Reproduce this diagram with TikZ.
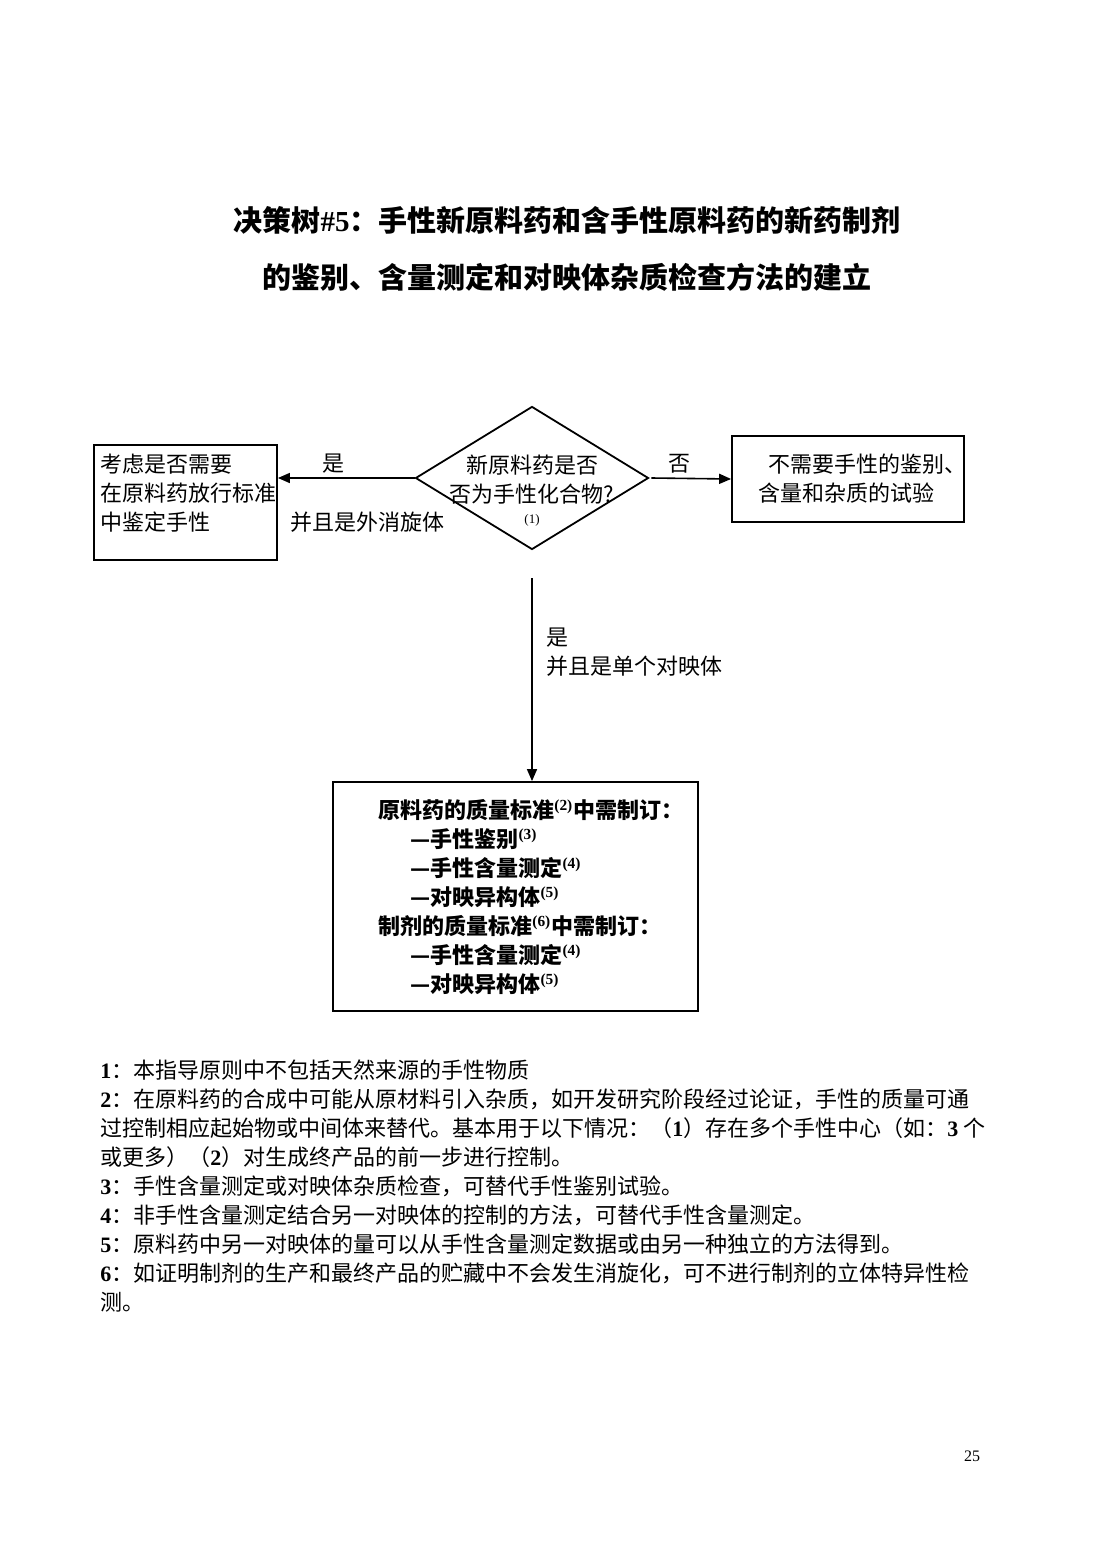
\documentclass[tikz,border=0pt]{standalone}
\usepackage{fontspec}
\setmainfont{Noto Sans CJK SC}
\newfontfamily\lat{Liberation Serif}
\usetikzlibrary{shapes.geometric,arrows.meta}

\begin{document}
\begin{tikzpicture}[x=0.5pt,y=0.5pt,yscale=-1,xscale=1,
    box/.style={draw,line width=0.9pt,inner sep=0pt},
    txt/.style={inner sep=0pt,font=\fontsize{11}{14.5}\selectfont},
    arr/.style={-{Triangle[length=6pt,width=5pt]},line width=0.8pt}]
    %set diagram to the page size
    \useasboundingbox (0,0) rectangle (1100,1556);

    % Text Node
    \node (title1) at (567,220) [inner sep=0pt,font=\fontsize{14.5}{14.5}\selectfont\bfseries] {决策树{\lat\#5}：手性新原料药和含手性原料药的新药制剂};
    % Text Node
    \node (title2) at (567,277) [inner sep=0pt,font=\fontsize{14.5}{14.5}\selectfont\bfseries] {的鉴别、含量测定和对映体杂质检查方法的建立};

    %Shape: Diamond
    \node (chiral) at (532,478) [draw,diamond,line width=0.9pt,inner sep=0pt,minimum width=116.5pt,minimum height=71.5pt,aspect=1.63] {};
    % Text Node
    \node (chiraltxt) at (532,491) [txt,align=center] {新原料药是否\\否为手性化合物?\\[-4pt]{\lat\fontsize{6.5}{7}\selectfont(1)}};

    %Shape: Rectangle
    \node (consider) at (185.5,502.5) [box,minimum width=91.5pt,minimum height=57.5pt] {};
    % Text Node
    \node (considertxt) at (100,493) [txt,anchor=west,align=left] {考虑是否需要\\在原料药放行标准\\中鉴定手性};

    %Shape: Rectangle
    \node (noneed) at (848,479) [box,minimum width=116pt,minimum height=43pt] {};
    % Text Node
    \node (noneedtxt) at (758,479) [txt,anchor=west,align=left] {\hspace*{5pt}不需要手性的鉴别、\\含量和杂质的试验};

    %Shape: Rectangle
    \node (spec) at (515.5,896.5) [box,minimum width=182.5pt,minimum height=114.5pt] {};
    % Text Node
    \node (spectxt) at (378,897) [txt,anchor=west,align=left,font=\fontsize{11}{14.5}\selectfont\bfseries] {原料药的质量标准{\lat\textsuperscript{(2)}}中需制订：\\
    \hspace*{16pt}—手性鉴别{\lat\textsuperscript{(3)}}\\
    \hspace*{16pt}—手性含量测定{\lat\textsuperscript{(4)}}\\
    \hspace*{16pt}—对映异构体{\lat\textsuperscript{(5)}}\\
    制剂的质量标准{\lat\textsuperscript{(6)}}中需制订：\\
    \hspace*{16pt}—手性含量测定{\lat\textsuperscript{(4)}}\\
    \hspace*{16pt}—对映异构体{\lat\textsuperscript{(5)}}};

    %Straight Lines
    \draw [arr] (chiral.west) -- (chiral.west -| consider.east);
    %Straight Lines
    \draw [arr] ([xshift=1pt]chiral.east) -- (noneed.west);
    %Straight Lines
    \coordinate (downstart) at ([yshift=14pt]chiral.south);
    \draw [arr] (downstart) -- (downstart |- spec.north);

    % Text Node
    \node (yesleft) at (333,464) [txt] {是};
    % Text Node
    \node (racemic) at (290,522) [txt,anchor=west] {并且是外消旋体};
    % Text Node
    \node (noright) at (679,464) [txt] {否};
    % Text Node
    \node (yesdown) at (546,652) [txt,anchor=west,align=left] {是\\并且是单个对映体};

    % Text Node
    \node (notes) at (100,1186) [txt,anchor=west,align=left] {{\lat\bfseries 1}：本指导原则中不包括天然来源的手性物质\\
    {\lat\bfseries 2}：在原料药的合成中可能从原材料引入杂质，如开发研究阶段经过论证，手性的质量可通\\
    过控制相应起始物或中间体来替代。基本用于以下情况：（{\lat\bfseries 1}）存在多个手性中心（如：{\lat\bfseries 3} 个\\
    或更多）（{\lat\bfseries 2}）对生成终产品的前一步进行控制。\\
    {\lat\bfseries 3}：手性含量测定或对映体杂质检查，可替代手性鉴别试验。\\
    {\lat\bfseries 4}：非手性含量测定结合另一对映体的控制的方法，可替代手性含量测定。\\
    {\lat\bfseries 5}：原料药中另一对映体的量可以从手性含量测定数据或由另一种独立的方法得到。\\
    {\lat\bfseries 6}：如证明制剂的生产和最终产品的贮藏中不会发生消旋化，可不进行制剂的立体特异性检\\
    测。};

    % Text Node
    \node (pagenum) at (972,1456) [inner sep=0pt,font=\lat\fontsize{8}{8}\selectfont] {25};
\end{tikzpicture}
\end{document}
